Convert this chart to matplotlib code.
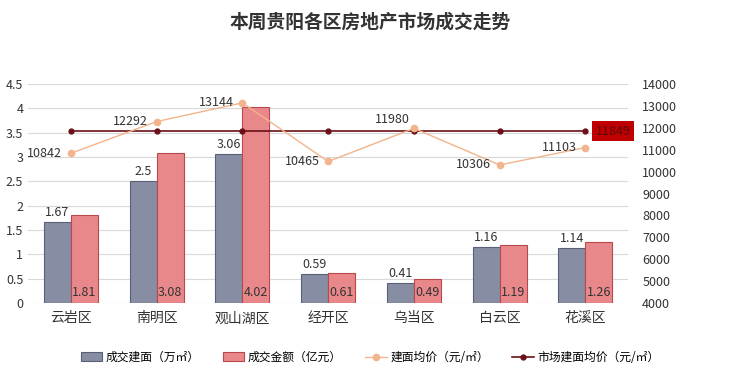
import matplotlib.pyplot as plt
import numpy as np

plt.rcParams['font.family'] = ['Noto Sans CJK SC', 'DejaVu Sans']

districts = ['云岩区', '南明区', '观山湖区', '经开区', '乌当区', '白云区', '花溪区']
area = [1.67, 2.5, 3.06, 0.59, 0.41, 1.16, 1.14]        # 成交建面 万㎡
amount = [1.81, 3.08, 4.02, 0.61, 0.49, 1.19, 1.26]      # 成交金额 亿元
avg_price = [10842, 12292, 13144, 10465, 11980, 10306, 11103]
market_price = [11849] * 7

fig = plt.figure(figsize=(7.4, 3.74), dpi=100)
ax = fig.add_axes([0.038, 0.19, 0.811, 0.585])
ax2 = ax.twinx()

x = np.arange(len(districts))
w = 0.315
b1 = ax.bar(x - w / 2, area, w, color='#878ea4', edgecolor='#5a6078', linewidth=0.8,
            label='成交建面（万㎡）', zorder=2)
b2 = ax.bar(x + w / 2, amount, w, color='#e9888b', edgecolor='#b8484c', linewidth=0.8,
            label='成交金额（亿元）', zorder=2)

for xi, v in zip(x, area):
    ax.text(xi - w / 2, v + 0.06, f'{v:g}', ha='center', va='bottom', fontsize=9, color='#333333')
for xi, v in zip(x, amount):
    ax.text(xi + w / 2, 0.08, f'{v:g}', ha='center', va='bottom', fontsize=9, color='#333333')

ax.set_ylim(0, 4.5)
ax.set_yticks(np.arange(0, 4.51, 0.5))
ax.set_yticklabels([f'{t:g}' for t in np.arange(0, 4.51, 0.5)])
ax.set_xlim(-0.5, 6.5)
ax.set_xticks(x)
ax.set_xticklabels(districts, fontsize=10)
ax.grid(axis='y', color='#d9d9d9', linewidth=0.8, zorder=0)
ax.set_axisbelow(True)

l2, = ax2.plot(x, market_price, color='#6b1018', linewidth=1.2, marker='o', markersize=3.5,
               label='市场建面均价（元/㎡）', zorder=4)
l1, = ax2.plot(x, avg_price, color='#f2b48c', linewidth=1.0, marker='o', markersize=4.5,
               label='建面均价（元/㎡）', zorder=5)
for xi, v in zip(x, avg_price):
    if v == 11980:
        ax2.text(xi - 0.05, v + 110, str(v), ha='right', va='bottom',
                 fontsize=9, color='#333333', zorder=6)
    else:
        ax2.text(xi - 0.1, v, str(v), ha='right', va='center',
                 fontsize=9, color='#333333', zorder=6)
ax2.text(x[-1] + 0.12, market_price[-1], str(market_price[-1]), ha='left', va='center',
         fontsize=9, color='#5a0a0a', zorder=6,
         bbox=dict(boxstyle='square,pad=0.3', facecolor='#c00000', edgecolor='none'))

ax2.set_ylim(4000, 14000)
ax2.set_yticks(np.arange(4000, 14001, 1000))

for a in (ax, ax2):
    for s in a.spines.values():
        s.set_visible(False)
    a.tick_params(length=0, labelsize=9, colors='#333333')
ax.tick_params(axis='x', labelsize=10, pad=6)
ax2.tick_params(axis='y', pad=10)

fig.text(0.5, 0.94, '本周贵阳各区房地产市场成交走势', ha='center', va='center',
         fontsize=13.5, fontweight='bold', color='#333333')

fig.legend(handles=[b1, b2, l1, l2], loc='center', bbox_to_anchor=(0.5, 0.045), ncol=4,
           frameon=False, fontsize=8.5, handlelength=1.8, columnspacing=2.0, handletextpad=0.3)

fig.savefig('out.png', dpi=100)
